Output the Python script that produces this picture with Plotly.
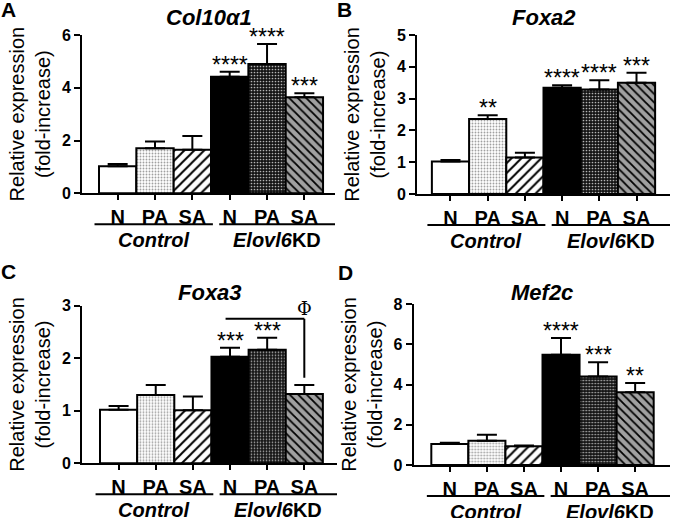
import plotly.graph_objects as go

# ---------------- data ----------------
categories = ["N", "PA", "SA", "N", "PA", "SA"]
groups = ["<b><i>Control</i></b>", "<b><i>Elovl6</i>KD</b>"]

genes = ["Col10α1", "Foxa2", "Foxa3", "Mef2c"]
panel_letters = ["A", "B", "C", "D"]

col10a1_mean = [1.03, 1.71, 1.65, 4.42, 4.90, 3.64]
col10a1_sem = [0.08, 0.25, 0.52, 0.19, 0.76, 0.15]
col10a1_sig = ["", "", "", "****", "****", "***"]

foxa2_mean = [1.02, 2.36, 1.15, 3.34, 3.29, 3.50]
foxa2_sem = [0.05, 0.12, 0.15, 0.08, 0.29, 0.31]
foxa2_sig = ["", "**", "", "****", "****", "***"]

foxa3_mean = [1.02, 1.30, 1.01, 2.03, 2.16, 1.32]
foxa3_sem = [0.07, 0.19, 0.26, 0.17, 0.23, 0.17]
foxa3_sig = ["", "", "", "***", "***", ""]

mef2c_mean = [1.04, 1.21, 0.93, 5.48, 4.40, 3.61]
mef2c_sem = [0.06, 0.29, 0.04, 0.83, 0.70, 0.46]
mef2c_sig = ["", "", "", "****", "***", "**"]

y_max = [6, 5, 3, 8]
y_dtick = [2, 1, 1, 2]

# Foxa3 bracket (KD N vs KD SA): from bar 3 to bar 5, phi symbol
foxa3_bracket = dict(x0=2.88, x1=5, y=2.75, y_end=1.63, label="Φ")

# ---------------- layout geometry (px in a 674x518 canvas) ----------------
W, H = 674, 518
# (x_left, x_right, y_bottom(value 0), y_top(value max)) in px
boxes = [(82, 335, 193.3, 35.0),
         (417, 670, 194.0, 35.0),
         (82, 337, 463.3, 305.7),
         (413.7, 670, 465.0, 304.0)]
x_ranges = [(-0.955, 5.82), (-0.90, 5.90), (-0.985, 5.88), (-0.975, 5.94)]
title_y_px = [17, 17, 292, 292]
letter_pos_px = [(8, 10), (344, 10), (8, 271), (345, 272)]

means = [col10a1_mean, foxa2_mean, foxa3_mean, mef2c_mean]
sems = [col10a1_sem, foxa2_sem, foxa3_sem, mef2c_sem]
sigs = [col10a1_sig, foxa2_sig, foxa3_sig, mef2c_sig]

FONT = "Liberation Sans, Arial, sans-serif"

# bar styles (background colour, pattern shape, pattern colour, size, solidity)
bar_bg = ["white", "white", "white", "black", "#141414", "#a0a0a0"]
pat_shape = ["", ".", "/", "", ".", "\\"]
pat_fg = ["black", "#a0a0a0", "black", "black", "#b4b4b4", "black"]
pat_size = [6, 3, 7, 6, 3, 6]
pat_sol = [0.3, 0.3, 0.28, 0.3, 0.25, 0.3]

fig = go.Figure()
annotations = []
shapes = []

xpos = list(range(len(categories)))


def text_ann(x, y, text, size, xref="paper", yref="paper", family=FONT, **kw):
    d = dict(x=x, y=y, xref=xref, yref=yref, text=text, showarrow=False,
             xanchor="center", yanchor="middle",
             font=dict(size=size, family=family, color="black"))
    d.update(kw)
    return d


for i in range(4):
    xl, xr, yb, yt = boxes[i]
    xd = [xl / W, xr / W]
    yd = [1 - yb / H, 1 - yt / H]
    sfx = "" if i == 0 else str(i + 1)
    xa, ya = "x" + sfx, "y" + sfx
    for j in xpos:
        pat = dict(shape=pat_shape[j], fgcolor=pat_fg[j], size=pat_size[j],
                   solidity=pat_sol[j], fillmode="overlay", fgopacity=1)
        fig.add_trace(go.Bar(
            x=[j], y=[means[i][j]], width=1,
            marker=dict(color=bar_bg[j], line=dict(color="black", width=2), pattern=pat),
            error_y=dict(type="data", symmetric=False, array=[sems[i][j]],
                         arrayminus=[0], color="black", thickness=2, width=10),
            xaxis=xa, yaxis=ya, showlegend=False, hoverinfo="skip",
        ))
    r0, r1 = x_ranges[i]
    fig.layout["xaxis" + sfx] = dict(
        domain=xd, range=[r0, r1], anchor=ya, tickmode="array", tickvals=xpos,
        ticktext=["<b>%s</b>" % c for c in categories],
        tickfont=dict(size=20, family=FONT, color="black"),
        showline=True, linecolor="black", linewidth=2, ticks="outside",
        ticklen=5, tickwidth=2, tickcolor="black", showgrid=False, zeroline=False,
        automargin=False, fixedrange=True)
    fig.layout["yaxis" + sfx] = dict(
        domain=yd, range=[0, y_max[i]], anchor=xa, dtick=y_dtick[i], tick0=0,
        tickfont=dict(size=16, family=FONT, color="black", weight="bold"),
        showline=True, linecolor="black", linewidth=2, ticks="outside",
        ticklen=6, tickwidth=2, tickcolor="black", showgrid=False, zeroline=False,
        title=dict(text="Relative expression<br>(fold-increase)",
                   font=dict(size=20, family=FONT, color="black"), standoff=6),
        automargin=False, fixedrange=True)

    def to_px(xv, xd=xd, r0=r0, r1=r1):
        return xd[0] + (xv - r0) / (r1 - r0) * (xd[1] - xd[0])

    # significance stars
    for j, s in enumerate(sigs[i]):
        if s:
            annotations.append(text_ann(j, means[i][j] + sems[i][j], s, 23, xref=xa, yref=ya,
                                        yanchor="bottom", yshift=-8))
    # gene title
    annotations.append(text_ann((xd[0] + xd[1]) / 2, 1 - title_y_px[i] / H,
                                "<b><i>%s</i></b>" % genes[i], 22))
    # panel letter
    lx, ly = letter_pos_px[i]
    annotations.append(text_ann(lx / W, 1 - ly / H, "<b>%s</b>" % panel_letters[i], 21))
    # group underline and labels
    spans = [(-0.62, 2.55), (2.72, r1)]
    line_y = 1 - (yb + 31) / H
    lab_y = 1 - (yb + 47) / H
    for g, (a, b) in enumerate(spans):
        shapes.append(dict(type="line", xref="paper", yref="paper", x0=to_px(a), x1=to_px(b),
                           y0=line_y, y1=line_y, line=dict(color="black", width=2)))
        annotations.append(text_ann((to_px(a) + to_px(b)) / 2, lab_y, groups[g], 20))

# Foxa3 bracket
br = foxa3_bracket
shapes.append(dict(type="line", xref="x3", yref="y3", x0=br["x0"], x1=br["x1"],
                   y0=br["y"], y1=br["y"], line=dict(color="black", width=2)))
shapes.append(dict(type="line", xref="x3", yref="y3", x0=br["x1"], x1=br["x1"],
                   y0=br["y"], y1=br["y_end"], line=dict(color="black", width=2)))
annotations.append(text_ann(br["x1"], br["y"], br["label"], 18, xref="x3", yref="y3",
                            family="DejaVu Serif, serif", yanchor="bottom", yshift=-2))

fig.update_layout(
    width=W, height=H, margin=dict(l=0, r=0, t=0, b=0),
    paper_bgcolor="white", plot_bgcolor="white",
    barmode="overlay", bargap=0, annotations=annotations, shapes=shapes,
    font=dict(family=FONT, color="black"), hovermode=False,
)

fig.write_html("out.html", config={"displayModeBar": False, "staticPlot": True},
               post_script="document.body.style.margin='0px';")
